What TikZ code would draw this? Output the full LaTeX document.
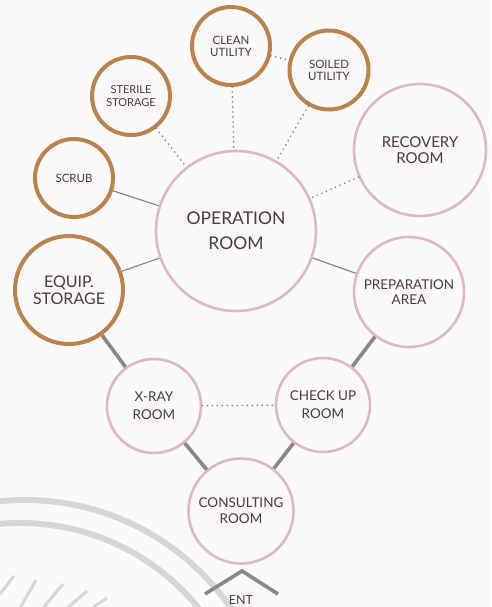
\documentclass[tikz,border=0pt]{standalone}
\usepackage{fontspec}
\setmainfont{Lato}
\definecolor{bgc}{HTML}{FBF9F9}
\definecolor{brownring}{HTML}{B9834F}
\definecolor{pinkring}{HTML}{DDB8C8}
\definecolor{txtc}{HTML}{4C3B3F}
\definecolor{linec}{HTML}{888888}
\definecolor{wmark}{HTML}{D6D6D6}
\begin{document}
\begin{tikzpicture}[x=1pt,y=-1pt,
  room/.style={circle, inner sep=0pt, align=center, text=txtc},
  brown/.style={room, draw=brownring, line width=4pt},
  pink/.style={room, draw=pinkring, line width=2.6pt},
  fs/.style 2 args={font=\fontsize{#1}{#2}\selectfont},
  thinlink/.style={draw=linec, line width=1.2pt},
  thicklink/.style={draw=linec, line width=3.6pt},
  dotlink/.style={draw=linec, line width=1.9pt, line cap=round, dash pattern=on 0pt off 5pt},
  wm/.style={draw=wmark, line width=6pt}
]
\useasboundingbox (0,0) rectangle (491,607);
\fill[bgc] (0,0) rectangle (491,607);
% watermark
\begin{scope}
\clip (0,0) rectangle (491,607);
\draw[wm] (25,750) circle[radius=250];
\draw[wm] (20,753) circle[radius=230];
\draw[wm, line width=3pt] (0,594) -- (14,576);
\draw[wm, line width=3pt] (20,608) -- (36,580);
\draw[wm, line width=3pt] (43,608) -- (63,584);
\draw[wm, line width=3pt] (67,608) -- (87,591);
\draw[wm, line width=3pt] (92,608) -- (107,598);
\end{scope}

% nodes
\node[pink, minimum size=160pt, fs={17.5}{25}] (op) at (236,231) {OPERATION\\ROOM};
\node[brown, minimum size=78pt, fs={11.5}{12}] (clean) at (231,46) {CLEAN\\UTILITY};
\node[brown, minimum size=79pt, fs={11.5}{12}] (soiled) at (329,70) {SOILED\\UTILITY};
\node[brown, minimum size=78pt, fs={11}{13}] (sterile) at (131,96) {STERILE\\STORAGE};
\node[brown, minimum size=78pt, fs={11.5}{13}] (scrub) at (74,178) {SCRUB};
\node[brown, minimum size=108pt, fs={16}{17}] (equip) at (69,290) {EQUIP.\\STORAGE};
\node[pink, minimum size=132pt, fs={15}{15.5}] (recovery) at (420,150) {RECOVERY\\ROOM};
\node[pink, minimum size=110pt, fs={13.5}{15}] (prep) at (409,292) {PREPARATION\\AREA};
\node[pink, minimum size=94pt, fs={13.5}{18}] (xray) at (154,406) {X-RAY\\ROOM};
\node[pink, minimum size=94pt, fs={13.5}{18}] (check) at (323,405) {CHECK UP\\ROOM};
\node[pink, minimum size=105pt, fs={13.5}{16}] (consult) at (241,511) {CONSULTING\\ROOM};

% links
\path[dotlink] (clean) -- (op);
\path[dotlink] (clean) -- (soiled);
\path[dotlink] (soiled) -- (op);
\path[dotlink] (sterile) -- (op);
\path[dotlink] (recovery) -- (op);
\path[thinlink] (scrub) -- (op);
\path[thinlink] (equip) -- (op);
\path[thinlink] (prep) -- (op);
\path[thicklink] (equip) -- (xray);
\path[thicklink] (prep) -- (check);
\path[dotlink] (xray) -- (check);
\path[thicklink] (xray) -- (consult);
\path[thicklink] (check) -- (consult);

% entrance
\coordinate (entl) at (205,594);
\coordinate (enta) at (242,571);
\coordinate (entr) at (278,594);
\draw[draw=linec, line width=3.6pt] (entl) -- (enta) -- (entr);
\node[text=txtc, font=\fontsize{12.5}{14}\selectfont, inner sep=0pt, anchor=base] (ent) at (241,604) {ENT};
\end{tikzpicture}
\end{document}
